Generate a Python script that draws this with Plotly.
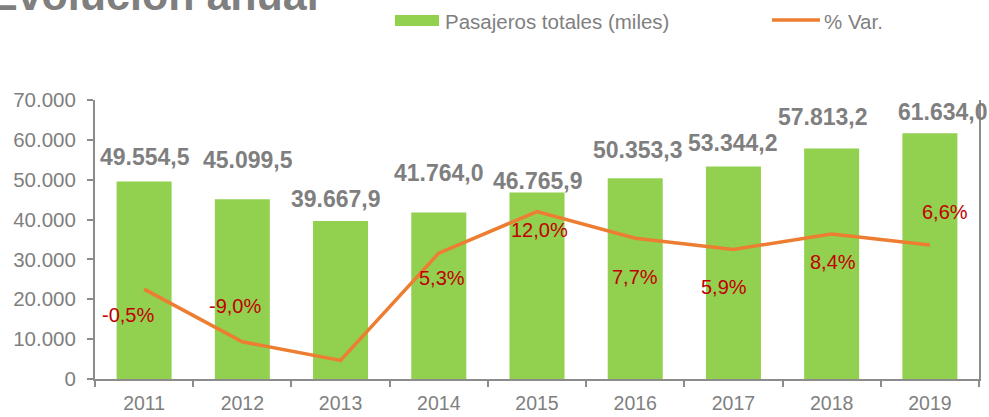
import plotly.graph_objects as go

years = ["2011", "2012", "2013", "2014", "2015", "2016", "2017", "2018", "2019"]
passengers = [49554.5, 45099.5, 39667.9, 41764.0, 46765.9, 50353.3, 53344.2, 57813.2, 61634.0]
pct_var = [-0.5, -9.0, -12.0, 5.3, 12.0, 7.7, 5.9, 8.4, 6.6]
bar_labels = ["49.554,5", "45.099,5", "39.667,9", "41.764,0", "46.765,9",
              "50.353,3", "53.344,2", "57.813,2", "61.634,0"]
pct_labels = ["-0,5%", "-9,0%", "", "5,3%", "12,0%", "7,7%", "5,9%", "8,4%", "6,6%"]
y_ticks = [0, 10000, 20000, 30000, 40000, 50000, 60000, 70000]

# label offsets (pixels) as placed in the original chart
bar_dx = [1, 6, -5, 0, 1, 3, 0, -9, 13]
bar_dy = [24, 39, 22, 40, 12, 28, 23, 32, 21]
pct_dx = [-16, -7, 0, 3, 2, 0, -9, 1, 15]
pct_dy = [-26, 36, 0, -25, -18, -39, -38, -28, 33]

FONT = "Liberation Sans, Arial, sans-serif"
GRAY = "#7F7F7F"
GREEN = "#92D050"
ORANGE = "#ED7D31"
RED = "#C00000"

fig = go.Figure()
fig.add_trace(go.Bar(x=years, y=passengers, name="Pasajeros totales (miles)",
                     marker=dict(color=GREEN, line=dict(width=0)),
                     showlegend=False, yaxis="y"))
fig.add_trace(go.Scatter(x=years, y=pct_var, name="% Var.", mode="lines",
                         line=dict(color=ORANGE, width=3.5),
                         showlegend=False, yaxis="y2"))

ann = []
for i in range(len(years)):
    ann.append(dict(x=i, y=passengers[i], xref="x", yref="y", text=bar_labels[i],
                    showarrow=False, xshift=bar_dx[i], yshift=bar_dy[i],
                    font=dict(family=FONT, size=23, color=GRAY, weight="bold")))
    if pct_labels[i]:
        ann.append(dict(x=i, y=pct_var[i], xref="x", yref="y2", text=pct_labels[i],
                        showarrow=False, xshift=pct_dx[i], yshift=pct_dy[i],
                        font=dict(family=FONT, size=20, color=RED)))

W = 884.0
H = 279.0
def px(x):
    return (x - 95) / W
def py(y):
    return (379 - y) / H

# title (partially cut at top)
ann.append(dict(x=px(-13), y=py(-5), xref="paper", yref="paper", xanchor="left",
                yanchor="middle", text="Evolución anual", showarrow=False,
                font=dict(family=FONT, size=43, color=GRAY, weight="bold")))
# legend texts
ann.append(dict(x=px(443), y=py(21), xref="paper", yref="paper", xanchor="left",
                yanchor="middle", text="Pasajeros totales (miles)", showarrow=False,
                font=dict(family=FONT, size=20.5, color=GRAY)))
ann.append(dict(x=px(822), y=py(21), xref="paper", yref="paper", xanchor="left",
                yanchor="middle", text="% Var.", showarrow=False,
                font=dict(family=FONT, size=20.5, color=GRAY)))

shapes = [
    dict(type="rect", xref="paper", yref="paper", x0=px(395), x1=px(439),
         y0=py(26), y1=py(15), fillcolor=GREEN, line=dict(width=0)),
    dict(type="line", xref="paper", yref="paper", x0=px(772), x1=px(820),
         y0=py(20), y1=py(20), line=dict(color=ORANGE, width=3.5)),
]

fig.update_layout(
    width=989, height=417,
    margin=dict(l=95, r=10, t=100, b=38, autoexpand=False),
    paper_bgcolor="white", plot_bgcolor="white",
    separators=",.",
    bargap=0.44,
    showlegend=False,
    annotations=ann,
    shapes=shapes,
    xaxis=dict(type="category", categoryorder="array", categoryarray=years,
               range=[-0.5, len(years) - 0.5], autorange=False, automargin=False,
               showline=True, linecolor="#8C8C8C", linewidth=2,
               ticks="outside", tickson="boundaries", ticklen=6, tickcolor="#8C8C8C",
               tickwidth=1.5, showgrid=False, tickangle=0, ticklabelstandoff=6,
               tickfont=dict(family=FONT, size=19.5, color=GRAY)),
    yaxis=dict(range=[0, 70000], autorange=False, automargin=False,
               tickvals=y_ticks, tickformat=",.0f",
               showline=True, linecolor="#8C8C8C", linewidth=2, ticks="outside",
               ticklen=6, tickcolor="#8C8C8C", tickwidth=1.5, showgrid=False,
               zeroline=False, ticklabelstandoff=7,
               tickfont=dict(family=FONT, size=20.5, color=GRAY)),
    yaxis2=dict(range=[-15, 30], autorange=False, automargin=False,
                overlaying="y", side="right",
                showline=True, linecolor="#8C8C8C", linewidth=2,
                showticklabels=False, ticks="", showgrid=False, zeroline=False),
)

fig.write_html("out.html", config={"displayModeBar": False},
               post_script="document.body.style.margin='0px';")
